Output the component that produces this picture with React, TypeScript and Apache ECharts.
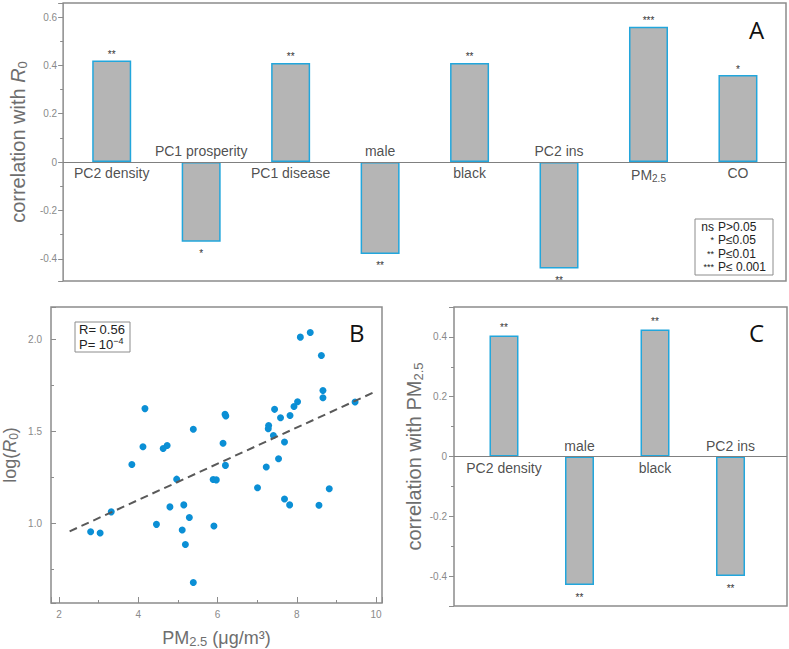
import React, { useEffect, useRef } from "react";
import * as echarts from "echarts";

// Panel A: correlation with R0
const catsA = ["PC2 density", "PC1 prosperity", "PC1 disease", "male", "black", "PC2 ins", "PM2.5", "CO"];
const valuesA = [0.42, -0.33, 0.41, -0.38, 0.41, -0.44, 0.56, 0.36];
const sigA = ["**", "*", "**", "**", "**", "**", "***", "*"];

// Panel C: correlation with PM2.5
const catsC = ["PC2 density", "male", "black", "PC2 ins"];
const valuesC = [0.405, -0.43, 0.425, -0.4];
const sigC = ["**", "**", "**", "**"];

// Panel B: scatter of log(R0) vs PM2.5
const pmX = [2.8, 3.04, 3.32, 3.84, 4.12, 4.17, 4.46, 4.63, 4.73, 4.8, 4.97, 5.11, 5.15, 5.19, 5.29, 5.39, 5.39, 5.89, 5.97, 5.91, 6.14, 6.19, 6.21, 6.2, 7.01, 7.23, 7.29, 7.28, 7.41, 7.44, 7.54, 7.59, 7.69, 7.69, 7.82, 7.83, 7.93, 8.02, 8.09, 8.34, 8.62, 8.56, 8.66, 8.66, 8.82, 9.47];
const logR0 = [0.955, 0.948, 1.063, 1.321, 1.417, 1.625, 0.995, 1.408, 1.424, 1.09, 1.241, 0.964, 1.101, 0.885, 1.032, 1.513, 0.679, 1.239, 1.237, 0.986, 1.436, 1.594, 1.585, 1.316, 1.194, 1.307, 1.533, 1.515, 1.479, 1.621, 1.352, 1.575, 1.443, 1.133, 1.101, 1.587, 1.636, 1.662, 2.014, 2.039, 1.914, 1.099, 1.724, 1.684, 1.189, 1.661];
const fitStart = [2.27, 0.957];
const fitEnd = [9.97, 1.716];

const legendStars = ["ns", "*", "**", "***"];
const legendText = ["P>0.05", "P\u22640.05", "P\u22640.01", "P\u2264 0.001"];

const FONT = "'Liberation Sans', Arial, sans-serif";
const TICK_GRAY = "#8a8a8a";
const NAME_GRAY = "#6e6e6e";
const FRAME = "#8c8c8c";
const BAR_FILL = "#b5b5b5";
const BAR_EDGE = "#22a6dc";
const DOT = "#0b8fd5";

const subRich = {
  sub: { fontSize: 10, padding: [7, 0, 0, 0], fontFamily: FONT, color: "#222" },
};

function fmtCat(c: string) {
  if (c === "PM2.5") return "PM{sub|2.5}";
  return c;
}

export default function App() {
  const ref = useRef<HTMLDivElement>(null);
  useEffect(() => {
    document.body.style.margin = "0";
    const chart = echarts.init(ref.current!, null, { renderer: "svg" });

    const barSeries = (vals: number[], sig: string[], xi: number, yi: number, w: number, starDist: [number, number]) => ({
      type: "bar",
      xAxisIndex: xi,
      yAxisIndex: yi,
      barWidth: w,
      data: vals.map((v, i) => ({
        value: [i + 1, v],
        label: {
          show: true,
          position: v >= 0 ? "top" : "bottom",
          distance: v >= 0 ? starDist[0] : starDist[1],
          color: "#333",
          formatter: () => sig[i],
        },
      })),
      label: { fontSize: 10, color: "#333", fontFamily: FONT },
      itemStyle: { color: BAR_FILL, borderColor: BAR_EDGE, borderWidth: 1.5 },
      markLine: {
        silent: true,
        symbol: "none",
        label: { show: false },
        lineStyle: { color: "#808080", width: 1, type: "solid" },
        data: [{ yAxis: 0 }],
      },
      z: 2,
    });

    const catLabelSeries = (cats: string[], vals: number[], xi: number, yi: number) => ({
      type: "scatter",
      xAxisIndex: xi,
      yAxisIndex: yi,
      symbolSize: 0,
      silent: true,
      data: cats.map((c, i) => ({
        value: [i + 1, 0],
        label: { position: vals[i] >= 0 ? "bottom" : "top" },
      })),
      label: {
        show: true,
        distance: 4,
        fontSize: 14,
        color: "#222",
        fontFamily: FONT,
        formatter: (p: any) => fmtCat(cats[p.dataIndex]),
        rich: subRich,
      },
      z: 5,
    });

    const valAxisY = (grid: number, min: number, max: number, split: number, inside: boolean, margin: number, name: string, nameGap: number, nameSize: number, rich: any, fmt?: (v: number) => string) => ({
      type: "value",
      gridIndex: grid,
      min,
      max,
      splitNumber: split,
      axisLine: { show: false },
      axisTick: { show: true, inside, length: 5, lineStyle: { color: FRAME } },
      minorTick: { show: true, splitNumber: 2, length: 3, lineStyle: { color: FRAME } },
      splitLine: { show: false },
      axisLabel: { color: TICK_GRAY, fontSize: 10, fontFamily: FONT, margin, showMinLabel: false, showMaxLabel: false, formatter: fmt },
      name,
      nameLocation: "middle",
      nameGap,
      nameTextStyle: { color: NAME_GRAY, fontSize: nameSize, fontFamily: FONT, rich },
    });

    const hiddenX = (grid: number, min: number, max: number) => ({
      type: "value",
      gridIndex: grid,
      min,
      max,
      axisLine: { show: false },
      axisTick: { show: false },
      axisLabel: { show: false },
      splitLine: { show: false },
    });

    const nameRich20 = {
      i: { fontStyle: "italic", fontSize: 20, color: NAME_GRAY, fontFamily: FONT },
      s: { fontSize: 13, color: NAME_GRAY, fontFamily: FONT, padding: [9, 0, 0, 0] },
    };
    const nameRich18 = {
      i: { fontStyle: "italic", fontSize: 18, color: NAME_GRAY, fontFamily: FONT },
      s: { fontSize: 12, color: NAME_GRAY, fontFamily: FONT, padding: [8, 0, 0, 0] },
    };

    const option: any = {
      animation: false,
      backgroundColor: "#fff",
      grid: [
        { left: 49, top: 3, width: 737, height: 278, show: true, borderColor: FRAME, borderWidth: 1.5, backgroundColor: "transparent" },
        { left: 49, top: 307, width: 333, height: 299, show: true, borderColor: FRAME, borderWidth: 1.5, backgroundColor: "transparent" },
        { left: 454, top: 307, width: 333, height: 299, show: true, borderColor: FRAME, borderWidth: 1.5, backgroundColor: "transparent" },
      ],
      xAxis: [
        hiddenX(0, 0.457, 8.537),
        {
          type: "value",
          gridIndex: 1,
          min: 1.8,
          max: 10.15,
          splitNumber: 4,
          axisLine: { show: false },
          axisTick: { show: true, inside: true, length: 6, lineStyle: { color: FRAME } },
          minorTick: { show: true, splitNumber: 2, length: 3, lineStyle: { color: FRAME } },
          splitLine: { show: false },
          axisLabel: { color: TICK_GRAY, fontSize: 10, fontFamily: FONT, margin: 6, showMinLabel: false, showMaxLabel: false },
          name: "PM{s|2.5} (\u03bcg/m\u00b3)",
          nameLocation: "middle",
          nameGap: 24,
          nameTextStyle: {
            color: NAME_GRAY,
            fontSize: 18,
            fontFamily: FONT,
            rich: { s: { fontSize: 13, color: NAME_GRAY, fontFamily: FONT, padding: [8, 0, 0, 0] } },
          },
        },
        hiddenX(2, 0.338, 4.748),
      ],
      yAxis: [
        valAxisY(0, -0.492, 0.658, 5, false, 6, "correlation with {i|R}{s|0}", 31, 20, nameRich20),
        valAxisY(1, 0.567, 2.178, 3, true, 9, "log({i|R}{s|0})", 31, 18, nameRich18, (v: number) => v.toFixed(1)),
        valAxisY(2, -0.5, 0.5, 5, false, 7, "correlation with PM{s|2.5}", 29, 20, nameRich20),
      ],
      series: [
        barSeries(valuesA, sigA, 0, 0, 39, [1, 7]),
        catLabelSeries(catsA, valuesA, 0, 0),
        barSeries(valuesC, sigC, 2, 2, 29, [3, 7]),
        catLabelSeries(catsC, valuesC, 2, 2),
        {
          type: "scatter",
          xAxisIndex: 1,
          yAxisIndex: 1,
          symbolSize: 7,
          itemStyle: { color: DOT, opacity: 1 },
          data: pmX.map((x, i) => [x, logR0[i]]),
          z: 3,
        },
        {
          type: "line",
          xAxisIndex: 1,
          yAxisIndex: 1,
          symbol: "none",
          lineStyle: { color: "#595959", width: 2, type: [8, 5] },
          data: [fitStart, fitEnd],
          z: 4,
        },
      ],
      graphic: [
        { type: "text", left: 749, top: 17, style: { text: "A", fontSize: 24, fontFamily: "'Open Sans', sans-serif", fill: "#111" } },
        { type: "text", left: 349, top: 320, style: { text: "B", fontSize: 24, fontFamily: "'Open Sans', sans-serif", fill: "#111" } },
        { type: "text", left: 749, top: 320, style: { text: "C", fontSize: 24, fontFamily: "'Open Sans', sans-serif", fill: "#111" } },
        // significance legend in A
        { type: "rect", shape: { x: 695, y: 219, width: 78, height: 56 }, style: { fill: "#fff", stroke: "#8c8c8c", lineWidth: 1 }, z: 10 },
        ...legendStars.map((s, i) => ({
          type: "text",
          x: 714,
          y: 227 + i * 13.3,
          z: 11,
          style: { text: s, fontSize: i === 0 ? 12 : 9, fontFamily: FONT, fill: "#222", align: "right", verticalAlign: "middle" },
        })),
        ...legendText.map((t, i) => ({
          type: "text",
          x: 718,
          y: 227 + i * 13.3,
          z: 11,
          style: { text: t, fontSize: 12, fontFamily: FONT, fill: "#222", align: "left", verticalAlign: "middle" },
        })),
        // R / P box in B
        { type: "rect", shape: { x: 75, y: 322, width: 55, height: 30 }, style: { fill: "#fff", stroke: "#8c8c8c", lineWidth: 1 }, z: 10 },
        { type: "text", x: 79, y: 329, z: 11, style: { text: "R= 0.56", fontSize: 13, lineHeight: 13, fontFamily: FONT, fill: "#222", verticalAlign: "middle" } },
        {
          type: "text",
          x: 79,
          y: 344,
          z: 11,
          style: {
            text: "P= 10{sup|\u22124}",
            fontSize: 13,
            fontFamily: FONT,
            fill: "#222",
            verticalAlign: "middle",
            rich: { sup: { fontSize: 9, fontFamily: FONT, fill: "#222", padding: [0, 0, 7, 0] } },
          },
        },
      ],
    };
    chart.setOption(option);
    return () => chart.dispose();
  }, []);
  return <div ref={ref} style={{ width: 789, height: 649 }} />;
}
